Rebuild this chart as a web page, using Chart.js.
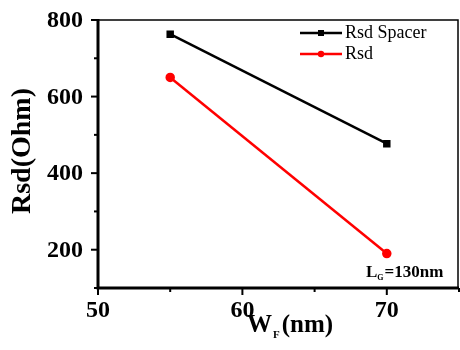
<!DOCTYPE html>
<html>
<head>
<meta charset="utf-8">
<script src="https://cdn.jsdelivr.net/npm/chart.js@4"></script>
<style>
  html, body { margin: 0; padding: 0; background: #fff; overflow: hidden; }
  canvas { display: block; }
</style>
</head>
<body>
<canvas id="grafico" width="460" height="350"></canvas>
<script>
// Dados
const largurasFin = [55, 70];
const rsdSpacer = [763, 477];
const rsd = [650, 190];
const ticksX = [50, 60, 70];
const ticksY = [200, 400, 600, 800];
const nota = { texto: 'L', sub: 'G', resto: '=130nm' };

const FONTE = '"Liberation Serif", "Times New Roman", serif';

// Moldura, marcas e rótulos dos eixos, títulos, legenda e anotação
const desenhoExtra = {
  id: 'desenhoExtra',
  afterDraw(chart) {
    const { ctx, chartArea: a, scales: { x, y } } = chart;
    ctx.save();
    ctx.strokeStyle = '#000';

    // moldura
    ctx.lineWidth = 1.5;
    ctx.strokeRect(a.left, a.top, a.right - a.left - 1, a.bottom - a.top);
    ctx.lineWidth = 3;
    ctx.beginPath();
    ctx.moveTo(a.left, a.top - 1);
    ctx.lineTo(a.left, a.bottom);
    ctx.lineTo(a.right, a.bottom);
    ctx.stroke();

    // marcas no eixo y (maiores e menores)
    ctx.lineWidth = 2;
    for (let v = 100; v <= 800; v += 100) {
      const py = y.getPixelForValue(v);
      const len = v % 200 === 0 ? 7 : 4;
      ctx.beginPath();
      ctx.moveTo(a.left - len, py);
      ctx.lineTo(a.left, py);
      ctx.stroke();
    }
    // marcas no eixo x
    for (let v = 50; v <= 75; v += 5) {
      const px = x.getPixelForValue(v);
      const len = v % 10 === 0 ? 7 : 4;
      ctx.beginPath();
      ctx.moveTo(px, a.bottom);
      ctx.lineTo(px, a.bottom + len);
      ctx.stroke();
    }

    ctx.fillStyle = '#000';
    ctx.font = 'bold 24px ' + FONTE;
    // rótulos do eixo y
    ctx.textAlign = 'right';
    ctx.textBaseline = 'middle';
    ticksY.forEach(v => ctx.fillText(String(v), a.left - 15, y.getPixelForValue(v) + 1));
    // rótulos do eixo x
    ctx.textAlign = 'center';
    ticksX.forEach(v => ctx.fillText(String(v), x.getPixelForValue(v), 311));

    // título do eixo y
    ctx.save();
    ctx.translate(23, 151);
    ctx.rotate(-Math.PI / 2);
    ctx.font = 'bold 28px ' + FONTE;
    ctx.textAlign = 'center';
    ctx.textBaseline = 'middle';
    ctx.fillText('Rsd(Ohm)', 0, 0);
    ctx.restore();

    // título do eixo x: W com subscrito F
    ctx.textBaseline = 'alphabetic';
    ctx.textAlign = 'left';
    let bx = 247, by = 332;
    ctx.font = 'bold 25px ' + FONTE;
    ctx.fillText('W', bx, by);
    bx += ctx.measureText('W').width + 1;
    ctx.font = 'bold 11px ' + FONTE;
    ctx.fillText('F', bx, by + 6);
    bx += ctx.measureText('F').width + 2;
    ctx.font = 'bold 25px ' + FONTE;
    ctx.fillText('(nm)', bx, by);

    // anotação L_G=130nm
    bx = 366; by = 277;
    ctx.font = 'bold 17px ' + FONTE;
    ctx.fillText(nota.texto, bx, by);
    bx += ctx.measureText(nota.texto).width;
    ctx.font = 'bold 8px ' + FONTE;
    ctx.fillText(nota.sub, bx, by + 3);
    bx += ctx.measureText(nota.sub).width + 1;
    ctx.font = 'bold 17px ' + FONTE;
    ctx.fillText(nota.resto, bx, by);

    // legenda
    const linhasLeg = [33, 54];
    chart.data.datasets.forEach((ds, i) => {
      const ly = linhasLeg[i];
      ctx.strokeStyle = ds.borderColor;
      ctx.fillStyle = ds.borderColor;
      ctx.lineWidth = 2.5;
      ctx.beginPath();
      ctx.moveTo(300, ly);
      ctx.lineTo(342, ly);
      ctx.stroke();
      if (ds.pointStyle === 'rect') {
        ctx.fillRect(318, ly - 3, 6, 6);
      } else {
        ctx.beginPath();
        ctx.arc(321, ly, 3.2, 0, Math.PI * 2);
        ctx.fill();
      }
      ctx.fillStyle = '#000';
      ctx.font = '18px ' + FONTE;
      ctx.textBaseline = 'middle';
      ctx.fillText(ds.label, 345, ly);
    });

    ctx.restore();
  }
};

new Chart(document.getElementById('grafico'), {
  type: 'line',
  data: {
    datasets: [
      {
        label: 'Rsd Spacer',
        data: largurasFin.map((w, i) => ({ x: w, y: rsdSpacer[i] })),
        borderColor: '#000',
        backgroundColor: '#000',
        borderWidth: 2.5,
        pointStyle: 'rect',
        pointRadius: 3.5,
        tension: 0
      },
      {
        label: 'Rsd',
        data: largurasFin.map((w, i) => ({ x: w, y: rsd[i] })),
        borderColor: '#ff0000',
        backgroundColor: '#ff0000',
        borderWidth: 2.5,
        pointStyle: 'circle',
        pointRadius: 3.5,
        tension: 0
      }
    ]
  },
  options: {
    responsive: false,
    animation: false,
    layout: { autoPadding: false, padding: { top: 20, right: 1, left: 0, bottom: 0 } },
    plugins: { legend: { display: false }, tooltip: { enabled: false } },
    scales: {
      x: {
        type: 'linear',
        min: 50,
        max: 75,
        afterFit: s => { s.height = 62; },
        grid: { display: false },
        border: { display: false },
        ticks: { display: false }
      },
      y: {
        min: 100,
        max: 800,
        afterFit: s => { s.width = 98; },
        grid: { display: false },
        border: { display: false },
        ticks: { display: false }
      }
    }
  },
  plugins: [desenhoExtra]
});
</script>
</body>
</html>
